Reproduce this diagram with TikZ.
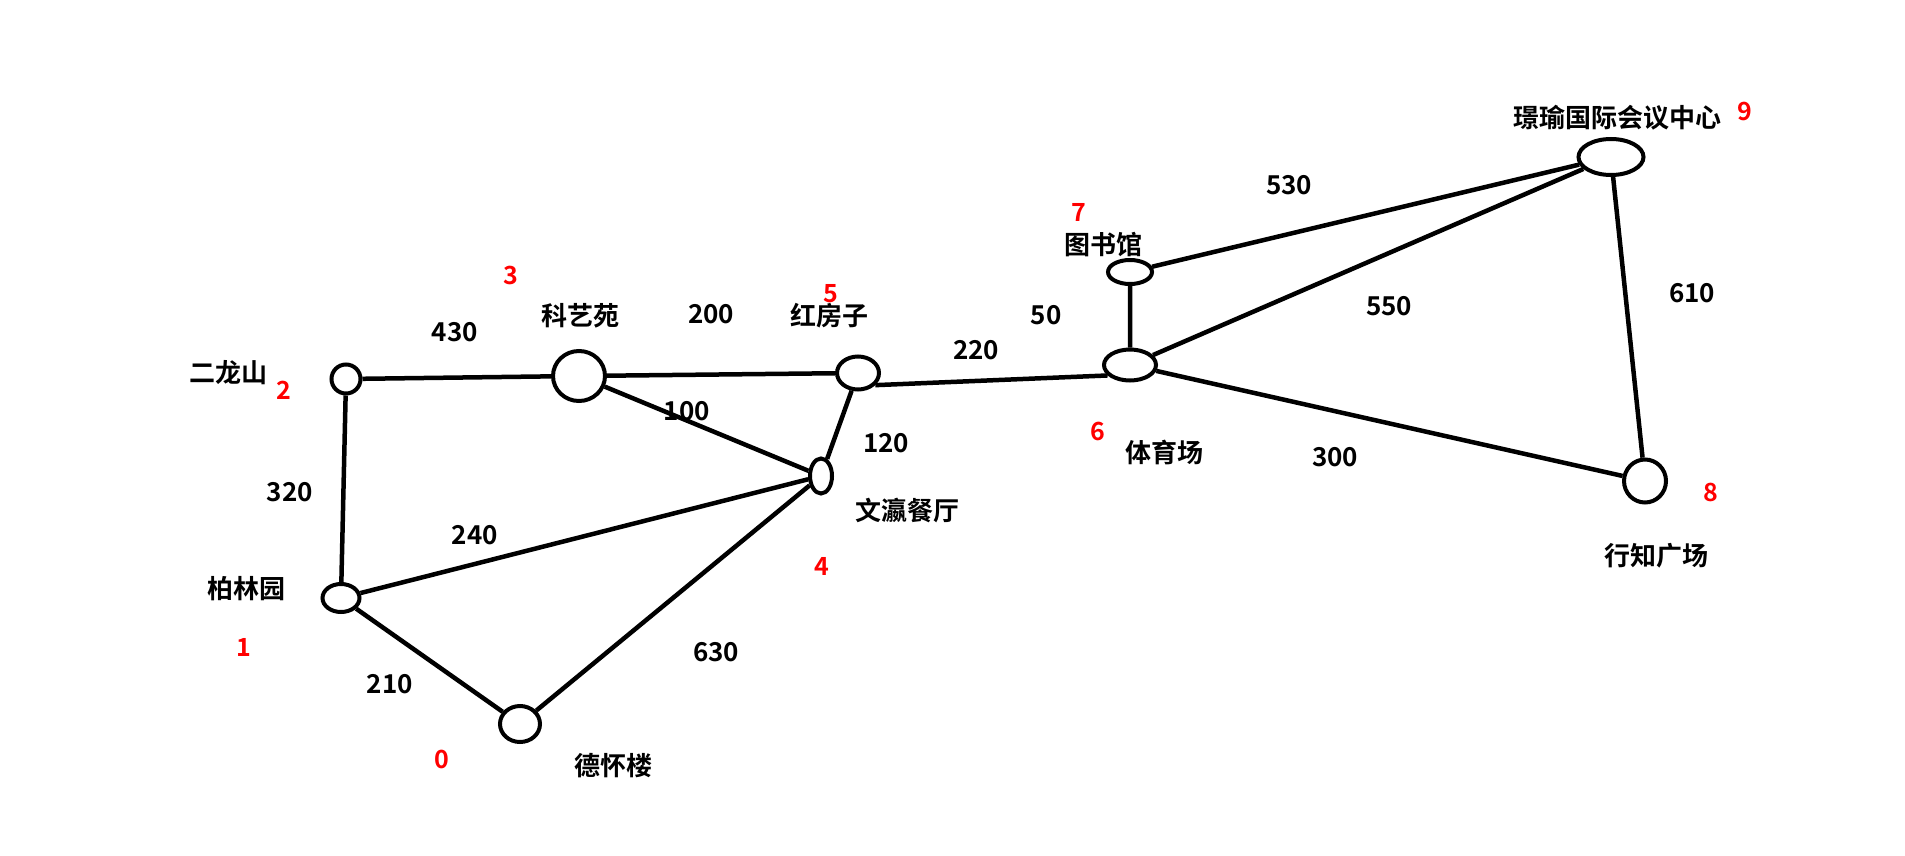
\documentclass[tikz,border=0pt]{standalone}
\usepackage{fontspec}
\newfontfamily\cjk{Noto Sans CJK SC Bold}
\usetikzlibrary{shapes.geometric}
\tikzset{
  spot/.style={draw, ellipse, line width=4pt, inner sep=0pt},
  road/.style={line width=4.5pt},
  lbl/.style={font=\cjk\fontsize{26}{26}\selectfont},
  idx/.style={text=red, font=\cjk\fontsize{25}{25}\selectfont},
}

\begin{document}
\begin{tikzpicture}[x=1pt, y=-1pt]
    \useasboundingbox (0,0) rectangle (1905,856);
    % places
    \node[spot, minimum width=40pt, minimum height=36pt] (s0) at (520,724) {};
    \node[spot, minimum width=37pt, minimum height=28pt] (s1) at (341,598) {};
    \node[spot, minimum width=29pt, minimum height=29pt] (s2) at (346,379) {};
    \node[spot, minimum width=52pt, minimum height=50pt] (s3) at (579,376) {};
    \node[spot, minimum width=42pt, minimum height=33pt] (s5) at (858,373) {};
    \node[spot, minimum width=22pt, minimum height=35pt] (s4) at (821,476) {};
    \node[spot, minimum width=52pt, minimum height=31pt] (s6) at (1130,365) {};
    \node[spot, minimum width=44pt, minimum height=24pt] (s7) at (1130,272) {};
    \node[spot, minimum width=42pt, minimum height=43pt] (s8) at (1645,481) {};
    \node[spot, minimum width=65pt, minimum height=36pt] (s9) at (1611,157) {};
    % roads
    \draw[road] (s2) -- (s3) -- (s5);
    \draw[road] (s5.-35) -- (s6.205);
    \draw[road] (s2) -- (s1) -- (s0) -- (s4);
    \draw[road] (s3) -- (s4) -- (s5);
    \draw[road] (s1) -- (s4);
    \draw[road] (s6) -- (s7) -- (s9) -- (s8) -- (s6) -- (s9);
    % names
    \node[lbl] (n0) at (613,766) {德怀楼};
    \node[lbl] (n1) at (246,589) {柏林园};
    \node[lbl] (n2) at (228,373) {二龙山};
    \node[lbl] (n3) at (580,316) {科艺苑};
    \node[lbl] (n4) at (907,510) {文瀛餐厅};
    \node[lbl] (n5) at (829,316) {红房子};
    \node[lbl] (n6) at (1164,452) {体育场};
    \node[lbl] (n7) at (1103,245) {图书馆};
    \node[lbl] (n8) at (1656,556) {行知广场};
    \node[lbl] (n9) at (1617,118) {璟瑜国际会议中心};
    % indices
    \node[idx] (i0) at (442,759) {0};
    \node[idx] (i1) at (244,647) {1};
    \node[idx] (i2) at (284,390) {2};
    \node[idx] (i3) at (511,275) {3};
    \node[idx] (i4) at (822,566) {4};
    \node[idx] (i5) at (831,294) {5};
    \node[idx] (i6) at (1098,431) {6};
    \node[idx] (i7) at (1079,212) {7};
    \node[idx] (i8) at (1711,492) {8};
    \node[idx] (i9) at (1745,111) {9};
    % distances
    \node[lbl] (d23) at (455,332) {430};
    \node[lbl] (d35) at (711,314) {200};
    \node[lbl] (d34) at (687,411) {100};
    \node[lbl] (d54) at (886,443) {120};
    \node[lbl] (d21) at (290,492) {320};
    \node[lbl] (d14) at (475,535) {240};
    \node[lbl] (d10) at (390,684) {210};
    \node[lbl] (d04) at (716,652) {630};
    \node[lbl] (d56) at (976,350) {220};
    \node[lbl] (d67) at (1046,315) {50};
    \node[lbl] (d79) at (1289,185) {530};
    \node[lbl] (d69) at (1389,306) {550};
    \node[lbl] (d98) at (1692,293) {610};
    \node[lbl] (d68) at (1335,457) {300};
\end{tikzpicture}
\end{document}
